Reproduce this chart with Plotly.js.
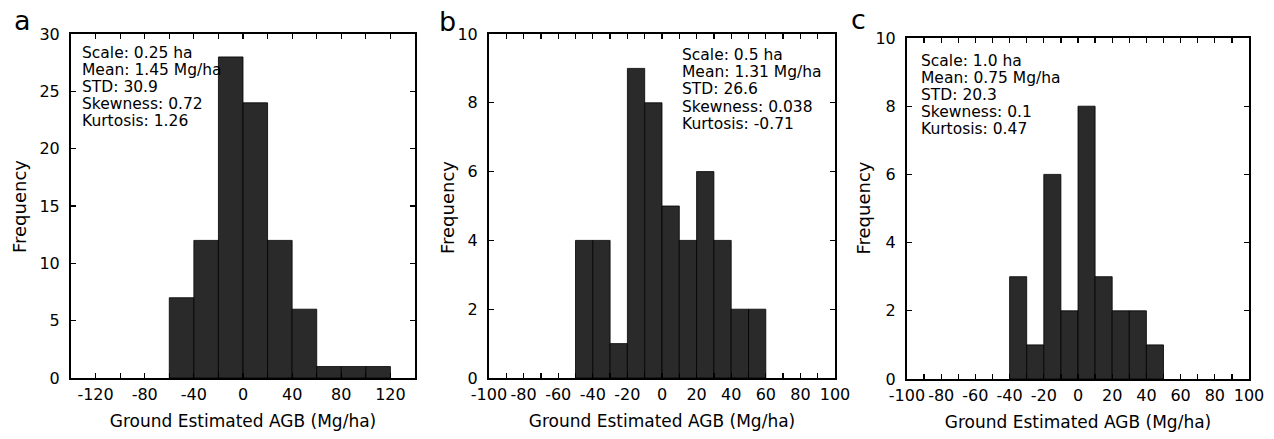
<!DOCTYPE html>
<html>
<head>
<meta charset="utf-8">
<script src="https://cdn.plot.ly/plotly-3.0.1.min.js"></script>
<style>html,body{margin:0;padding:0;background:#fff;}#chart{width:1274px;height:439px;}</style>
</head>
<body>
<div id="chart"></div>
<script>
// ---- Data ----
// Panel a: 0.25 ha, bins of 20 Mg/ha
const aBinCenters = [-50, -30, -10, 10, 30, 50, 70, 90, 110];
const aCounts     = [7, 12, 28, 24, 12, 6, 1, 1, 1];
const aBinWidth   = 20;
// Panel b: 0.5 ha, bins of 10 Mg/ha
const bBinCenters = [-45, -35, -25, -15, -5, 5, 15, 25, 35, 45, 55];
const bCounts     = [4, 4, 1, 9, 8, 5, 4, 6, 4, 2, 2];
const bBinWidth   = 10;
// Panel c: 1.0 ha, bins of 10 Mg/ha
const cBinCenters = [-35, -25, -15, -5, 5, 15, 25, 35, 45];
const cCounts     = [3, 1, 6, 2, 8, 3, 2, 2, 1];
const cBinWidth   = 10;

// Tick values / labels
const aXTickVals = [-140,-120,-100,-80,-60,-40,-20,0,20,40,60,80,100,120,140];
const aXTickText = ['','-120','','-80','','-40','','0','','40','','80','','120',''];
const bcXTickVals = [-100,-90,-80,-70,-60,-50,-40,-30,-20,-10,0,10,20,30,40,50,60,70,80,90,100];
const bcXTickText = ['-100','','-80','','-60','','-40','','-20','','0','','20','','40','','60','','80','','100'];
const aYTickVals = [0,5,10,15,20,25,30];
const bcYTickVals = [0,2,4,6,8,10];

const panelLetters = ['a','b','c'];
const statsA = ['Scale: 0.25 ha','Mean: 1.45 Mg/ha','STD: 30.9','Skewness: 0.72','Kurtosis: 1.26'];
const statsB = ['Scale: 0.5 ha','Mean: 1.31 Mg/ha','STD: 26.6','Skewness: 0.038','Kurtosis: -0.71'];
const statsC = ['Scale: 1.0 ha','Mean: 0.75 Mg/ha','STD: 20.3','Skewness: 0.1','Kurtosis: 0.47'];
const xTitle = 'Ground Estimated AGB (Mg/ha)';
const yTitle = 'Frequency';

// ---- Styling ----
const FONT = 'DejaVu Sans, sans-serif';
const barStyle = {color: '#2a2a2a', line: {color: '#000', width: 0.8}};

function bars(x, y, w, xa, ya) {
  return {type: 'bar', x: x, y: y, width: x.map(() => w), xaxis: xa, yaxis: ya,
          marker: barStyle, hoverinfo: 'x+y', showlegend: false};
}

const data = [
  bars(aBinCenters, aCounts, aBinWidth, 'x', 'y'),
  bars(bBinCenters, bCounts, bBinWidth, 'x2', 'y2'),
  bars(cBinCenters, cCounts, cBinWidth, 'x3', 'y3')
];

function xax(domain, range, tv, tt, anchor) {
  return {domain: domain, range: range, anchor: anchor, tickmode: 'array', tickvals: tv, ticktext: tt,
    ticks: 'inside', ticklen: 5, tickwidth: 1.2, tickcolor: '#000', showline: true, linecolor: '#000', linewidth: 2,
    mirror: 'ticks', showgrid: false, zeroline: false, tickfont: {family: FONT, size: 16, color: '#000'},
    ticklabelstandoff: 1,
    title: {text: xTitle, font: {family: FONT, size: 17, color: '#000'}, standoff: 12}};
}
function yax(domain, range, tv, anchor) {
  return {domain: domain, range: range, anchor: anchor, tickmode: 'array', tickvals: tv,
    ticks: 'inside', ticklen: 5, tickwidth: 1.2, tickcolor: '#000', showline: true, linecolor: '#000', linewidth: 2,
    mirror: 'ticks', showgrid: false, zeroline: false, tickfont: {family: FONT, size: 16, color: '#000'},
    ticklabelstandoff: 6};
}

const H = 439, W = 1274;
const dA = [71/W, 415/W], dB = [489/W, 835/W], dC = [907/W, 1249/W];
const yAB = [(H-378)/H, (H-34)/H];
const yC  = [(H-379)/H, (H-38)/H];

function statsAnns(lines, xpx, ypx0, step) {
  return lines.map((t, i) => ({xref: 'paper', yref: 'paper', x: xpx/W, y: 1 - (ypx0 + i*step)/H,
    xanchor: 'left', yanchor: 'middle', align: 'left', showarrow: false, text: t,
    font: {family: FONT, size: 15.5, color: '#000'}}));
}
function letterAnn(t, xpx, ypx) {
  return {xref: 'paper', yref: 'paper', x: xpx/W, y: 1 - ypx/H, xanchor: 'center', yanchor: 'middle',
    showarrow: false, text: t, font: {family: FONT, size: 27, color: '#000'}};
}
function yTitleAnn(xpx, ypx) {
  return {xref: 'paper', yref: 'paper', x: xpx/W, y: 1 - ypx/H, xanchor: 'center', yanchor: 'middle',
    textangle: -90, showarrow: false, text: yTitle, font: {family: FONT, size: 18, color: '#000'}};
}

const layout = {
  width: W, height: H, margin: {l: 0, r: 0, t: 0, b: 0},
  paper_bgcolor: '#fff', plot_bgcolor: '#fff', bargap: 0,
  font: {family: FONT, color: '#000'},
  xaxis:  xax(dA, [-140, 140], aXTickVals, aXTickText, 'y'),
  yaxis:  yax(yAB, [0, 30], aYTickVals, 'x'),
  xaxis2: xax(dB, [-100, 100], bcXTickVals, bcXTickText, 'y2'),
  yaxis2: yax(yAB, [0, 10], bcYTickVals, 'x2'),
  xaxis3: xax(dC, [-100, 100], bcXTickVals, bcXTickText, 'y3'),
  yaxis3: yax(yC, [0, 10], bcYTickVals, 'x3'),
  annotations: [].concat(
    statsAnns(statsA, 80, 52.5, 17.1),
    statsAnns(statsB, 680, 55.3, 17.1),
    statsAnns(statsC, 919, 61, 17),
    [letterAnn(panelLetters[0], 22, 20.5),
     letterAnn(panelLetters[1], 447, 21.5),
     letterAnn(panelLetters[2], 858, 20),
     yTitleAnn(19.5, 206.5),
     yTitleAnn(447.5, 207.5),
     yTitleAnn(863, 208.5)]
  )
};

Plotly.newPlot('chart', data, layout, {displayModeBar: false, staticPlot: true});
</script>
</body>
</html>
